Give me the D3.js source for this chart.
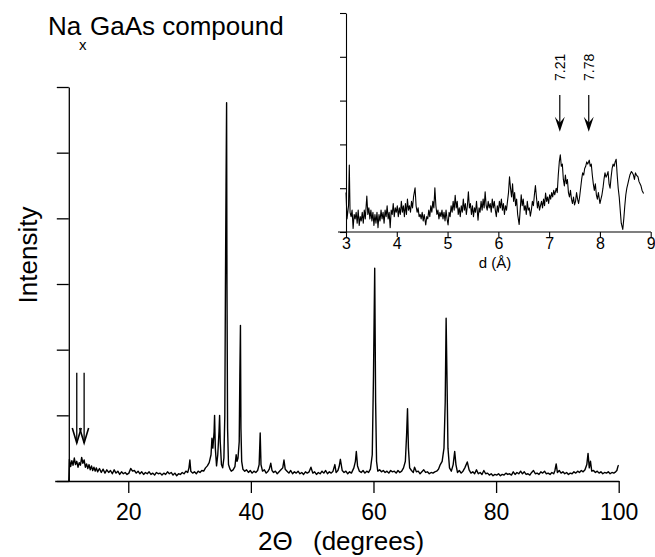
<!DOCTYPE html>
<html>
<head>
    <style>
        body { margin: 0; background: #fff; }
        svg text { font-family: "Liberation Sans", Arial, sans-serif; fill: #000; }
        .trace { fill: none; stroke: #000; stroke-linejoin: round; }
    </style>
    <script src="https://d3js.org/d3.v7.min.js"></script>
</head>
<body>
<svg width="655" height="557"></svg>
<script>

    // main pattern: [2theta (deg), intensity (counts)]
    var mainPattern = [
        [10.3,0],[10.4,330],[10.6,220],[10.8,310],[11.0,240],[11.2,350],[11.4,250],[11.6,300],[11.8,210],
        [12.0,280],[12.2,240],[12.4,360],[12.6,270],[12.8,320],[13.0,210],[13.2,260],[13.4,190],[13.6,250],
        [13.8,170],[14.0,230],[14.2,160],[14.4,210],[14.6,150],[14.8,200],[15.0,140],[15.3,190],[15.6,130],
        [15.9,180],[16.2,120],[16.5,170],[16.8,130],[17.1,160],[17.4,110],[17.7,170],[18.0,120],[18.3,150],
        [18.6,100],[18.9,140],[19.2,110],[19.5,130],[19.8,100],[20.1,120],[20.4,190],[20.7,150],[21.0,160],
        [21.3,120],[21.6,150],[21.9,110],[22.2,140],[22.5,100],[22.8,130],[23.1,110],[23.4,140],[23.7,100],
        [24.0,120],[24.3,90],[24.6,130],[24.9,110],[25.2,120],[25.5,90],[25.8,120],[26.1,100],[26.4,140],
        [26.7,110],[27.0,130],[27.3,90],[27.6,120],[27.9,80],[28.2,110],[28.5,100],[28.8,130],[29.1,110],
        [29.4,150],[29.7,130],[29.9,200],[30.05,320],[30.2,150],[30.5,120],[30.8,140],[31.1,110],[31.4,150],
        [31.7,130],[32.0,160],[32.3,150],[32.6,200],[32.9,230],[33.2,280],[33.5,400],[33.65,650],[33.8,500],
        [34.0,750],[34.08,1000],[34.2,500],[34.4,230],[34.6,400],[34.8,750],[34.9,1000],[35.0,600],[35.2,250],
        [35.4,200],[35.6,350],[35.75,1000],[35.85,2950],[35.95,4500],[36.04,5760],[36.1,3000],[36.2,800],
        [36.35,250],[36.6,180],[36.8,150],[37.1,170],[37.4,220],[37.6,400],[37.75,300],[37.9,350],[38.1,600],
        [38.2,1600],[38.3,2370],[38.38,800],[38.5,300],[38.7,180],[39.0,150],[39.3,170],[39.6,130],[39.9,160],
        [40.2,120],[40.5,150],[40.8,130],[41.1,160],[41.35,250],[41.52,730],[41.65,250],[41.9,150],[42.2,170],
        [42.5,120],[42.8,150],[43.0,180],[43.25,270],[43.45,160],[43.7,130],[44.0,150],[44.3,110],[44.6,140],
        [44.9,170],[45.2,200],[45.4,320],[45.6,180],[45.9,150],[46.2,120],[46.5,160],[46.8,110],[47.1,140],
        [47.4,120],[47.7,150],[48.0,110],[48.3,130],[48.6,100],[48.9,140],[49.2,120],[49.5,140],[49.8,210],
        [50.1,120],[50.4,140],[50.7,100],[51.0,130],[51.3,110],[51.6,150],[51.9,120],[52.2,160],[52.5,110],
        [52.8,140],[53.1,120],[53.4,150],[53.7,250],[53.9,130],[54.2,160],[54.4,220],[54.6,330],[54.9,160],
        [55.2,130],[55.5,150],[55.8,110],[56.1,140],[56.4,120],[56.8,200],[57.05,300],[57.2,450],[57.4,230],
        [57.7,150],[58.0,130],[58.3,160],[58.6,120],[58.9,150],[59.2,130],[59.5,180],[59.8,400],[60.0,1600],
        [60.2,3240],[60.35,1200],[60.5,300],[60.7,150],[61.0,170],[61.3,140],[61.6,160],[61.9,130],[62.2,150],
        [62.5,120],[62.8,160],[63.1,140],[63.4,150],[63.7,120],[64.0,160],[64.3,130],[64.6,150],[64.9,200],
        [65.2,300],[65.4,700],[65.55,1100],[65.7,500],[65.9,200],[66.2,160],[66.5,130],[66.7,210],[67.0,140],
        [67.3,150],[67.6,110],[67.9,140],[68.2,170],[68.5,130],[68.8,140],[69.1,110],[69.4,130],[69.7,120],
        [70.0,140],[70.3,150],[70.6,180],[70.9,250],[71.2,300],[71.5,500],[71.7,1200],[71.85,2480],[72.0,1500],
        [72.15,500],[72.4,200],[72.7,150],[73.0,250],[73.25,450],[73.45,250],[73.7,130],[74.0,160],[74.3,120],
        [74.6,150],[74.9,200],[75.3,290],[75.6,170],[75.9,120],[76.2,140],[76.5,110],[76.8,170],[77.1,110],
        [77.4,130],[77.7,100],[78.0,160],[78.3,110],[78.6,120],[78.9,90],[79.2,110],[79.5,80],[79.8,100],
        [80.1,90],[80.4,110],[80.7,80],[81.0,100],[81.3,90],[81.6,120],[81.9,100],[82.2,110],[82.5,90],
        [82.8,140],[83.1,100],[83.4,130],[83.7,110],[84.0,150],[84.3,110],[84.6,140],[84.9,100],[85.2,110],
        [85.5,90],[85.8,130],[86.1,160],[86.4,110],[86.7,120],[87.0,100],[87.3,140],[87.6,120],[87.9,150],
        [88.2,110],[88.5,120],[88.8,100],[89.1,130],[89.4,110],[89.6,160],[89.8,260],[90.0,130],[90.3,160],
        [90.6,120],[90.9,140],[91.2,110],[91.5,130],[91.8,100],[92.1,120],[92.4,110],[92.7,140],[93.0,120],
        [93.3,150],[93.6,130],[93.9,160],[94.2,140],[94.5,170],[94.8,250],[95.0,420],[95.2,200],[95.4,300],
        [95.6,150],[95.9,160],[96.2,130],[96.5,150],[96.8,120],[97.1,140],[97.4,110],[97.7,130],[98.0,120],
        [98.3,140],[98.6,110],[98.9,130],[99.2,120],[99.5,140],[99.7,160],[99.9,230],[100.0,240]
    ];

    // inset: [d (angstrom), intensity (arb.)]
    var insetPattern = [
        [3.00,0.9],[3.02,0.3],[3.05,0.6],[3.065,1.53],[3.08,0.45],[3.10,0.35],[3.12,0.5],[3.14,0.08],[3.16,0.4],
        [3.18,0.3],[3.20,0.45],[3.22,0.2],[3.24,0.5],[3.26,0.15],[3.28,0.35],[3.30,0.25],[3.32,0.45],[3.34,0.2],
        [3.36,0.5],[3.38,0.3],[3.41,0.82],[3.43,0.4],[3.45,0.55],[3.47,0.3],[3.49,0.5],[3.51,0.25],[3.53,0.45],
        [3.55,0.15],[3.57,0.4],[3.59,0.2],[3.61,0.45],[3.63,0.1],[3.65,0.4],[3.67,0.25],[3.69,0.5],[3.71,0.3],
        [3.73,0.45],[3.75,0.2],[3.77,0.5],[3.79,0.35],[3.81,0.6],[3.83,0.3],[3.85,0.45],[3.87,0.1],[3.89,0.5],
        [3.91,0.4],[3.93,0.65],[3.95,0.35],[3.97,0.55],[3.99,0.45],[4.01,0.6],[4.03,0.35],[4.05,0.55],[4.07,0.4],
        [4.09,0.7],[4.11,0.45],[4.13,0.6],[4.15,0.35],[4.17,0.65],[4.19,0.4],[4.21,0.75],[4.23,0.5],[4.25,0.6],
        [4.27,0.45],[4.29,0.7],[4.31,0.55],[4.33,0.8],[4.36,1.01],[4.38,0.6],[4.40,0.45],[4.42,0.55],[4.44,0.35],
        [4.46,0.4],[4.48,0.3],[4.50,0.45],[4.52,0.25],[4.54,0.4],[4.57,0.16],[4.59,0.35],[4.61,0.3],[4.63,0.5],
        [4.65,0.35],[4.67,0.6],[4.69,0.45],[4.71,0.7],[4.73,0.55],[4.75,1.01],[4.77,0.6],[4.79,0.4],[4.81,0.5],
        [4.83,0.3],[4.85,0.45],[4.87,0.35],[4.89,0.5],[4.91,0.3],[4.93,0.45],[4.95,0.25],[4.97,0.5],[4.99,0.3],
        [5.01,0.16],[5.03,0.45],[5.05,0.35],[5.07,0.6],[5.09,0.45],[5.11,0.7],[5.13,0.5],[5.15,0.84],[5.17,0.55],
        [5.19,0.7],[5.21,0.4],[5.23,0.55],[5.25,0.35],[5.27,0.6],[5.29,0.45],[5.31,0.75],[5.33,0.5],[5.35,0.65],
        [5.37,0.4],[5.39,0.6],[5.41,0.92],[5.43,0.55],[5.45,0.65],[5.47,0.4],[5.49,0.6],[5.51,0.35],[5.53,0.55],
        [5.55,0.45],[5.57,0.7],[5.60,0.27],[5.62,0.55],[5.64,0.45],[5.66,0.7],[5.68,0.5],[5.70,0.75],[5.72,0.55],
        [5.74,0.92],[5.76,0.6],[5.78,0.5],[5.80,0.7],[5.82,0.55],[5.84,0.65],[5.86,0.45],[5.88,0.75],[5.90,0.55],
        [5.92,0.7],[5.94,0.5],[5.96,0.35],[5.98,0.6],[6.00,0.45],[6.02,0.7],[6.04,0.55],[6.06,0.75],[6.08,0.5],
        [6.10,0.65],[6.12,0.4],[6.14,0.6],[6.16,0.5],[6.18,0.7],[6.20,0.9],[6.22,1.26],[6.24,1.0],[6.26,0.8],
        [6.28,1.1],[6.30,0.7],[6.32,0.9],[6.34,0.6],[6.36,0.75],[6.38,0.4],[6.41,0.17],[6.43,0.5],[6.45,0.85],
        [6.47,0.6],[6.49,0.75],[6.51,0.5],[6.53,0.6],[6.55,0.4],[6.57,0.7],[6.59,0.5],[6.61,0.55],[6.63,0.36],
        [6.65,0.5],[6.67,0.7],[6.69,0.6],[6.71,0.85],[6.73,1.06],[6.75,0.8],[6.77,0.55],[6.79,0.7],[6.81,0.5],
        [6.83,0.6],[6.85,0.7],[6.87,0.55],[6.89,0.75],[6.91,0.6],[6.93,0.89],[6.95,0.7],[6.97,0.8],[6.99,0.65],
        [7.01,0.85],[7.03,0.75],[7.05,0.9],[7.07,0.8],[7.09,0.95],[7.11,0.85],[7.14,1.0],[7.16,0.9],[7.18,1.3],
        [7.20,1.6],[7.22,1.76],[7.24,1.5],[7.26,1.55],[7.28,1.2],[7.30,1.05],[7.32,1.3],[7.34,1.1],[7.36,1.2],
        [7.38,0.9],[7.40,0.8],[7.42,0.95],[7.44,0.75],[7.46,0.65],[7.48,0.8],[7.50,0.62],[7.52,0.7],[7.54,0.9],
        [7.56,0.75],[7.58,0.65],[7.60,0.8],[7.62,1.0],[7.64,1.2],[7.66,1.35],[7.68,1.3],[7.70,1.45],[7.72,1.5],
        [7.74,1.6],[7.76,1.55],[7.79,1.64],[7.81,1.5],[7.83,1.55],[7.85,1.3],[7.87,1.1],[7.89,0.95],[7.91,1.1],
        [7.93,0.85],[7.95,0.75],[7.97,0.9],[8.00,0.65],[8.02,0.75],[8.04,0.85],[8.06,1.0],[8.08,1.2],[8.10,1.35],
        [8.12,1.25],[8.14,1.3],[8.16,1.38],[8.18,1.1],[8.20,1.0],[8.22,1.25],[8.24,1.45],[8.26,1.55],[8.28,1.5],
        [8.30,1.6],[8.32,1.66],[8.34,1.3],[8.36,1.0],[8.38,0.8],[8.40,0.5],[8.42,0.2],[8.45,0.06],[8.47,0.3],
        [8.49,0.6],[8.51,0.85],[8.53,1.0],[8.55,1.1],[8.57,1.2],[8.59,1.3],[8.62,1.38],[8.64,1.35],[8.66,1.3],
        [8.68,1.2],[8.70,1.35],[8.72,1.3],[8.75,1.26],[8.77,1.15],[8.79,1.1],[8.81,1.05],[8.83,0.95],[8.86,0.88]
    ];

    var mainTicksX = [20, 40, 60, 80, 100];
    var mainTicksY = [0, 1000, 2000, 3000, 4000, 5000, 6000];
    var insetTicksX = [3, 4, 5, 6, 7, 8, 9];
    var insetTicksY = [0, 1, 2, 3, 4, 5];

    // marked positions (arrows)
    var mainArrows = [11.6, 12.8];
    var insetArrows = [7.21, 7.78];

    var svg = d3.select("svg");

    // ---- main plot ----
    var x = d3.scaleLinear().domain([8, 100]).range([54.7, 618.7]);
    var y = d3.scaleLinear().domain([0, 6000]).range([481, 87]);

    var xAxis = svg.append("g")
        .attr("transform", "translate(0,481)")
        .call(d3.axisBottom(x).tickValues(mainTicksX).tickSize(12).tickSizeOuter(0).tickPadding(11).tickFormat(d3.format("d")));
    xAxis.attr("font-size", 23).attr("font-family", "Liberation Sans, Arial, sans-serif");

    var yAxis = svg.append("g")
        .attr("transform", "translate(" + x(10.3) + ",0)")
        .call(d3.axisLeft(y).tickValues(mainTicksY).tickSize(12).tickSizeOuter(0).tickFormat(""));

    svg.selectAll(".domain, .tick line").attr("stroke", "#000").attr("stroke-width", 1.3);

    var line = d3.line()
        .x(function(d) { return x(d[0]); })
        .y(function(d) { return y(d[1]); });

    svg.append("path")
        .datum(mainPattern)
        .attr("class", "trace")
        .attr("stroke-width", 1.4)
        .attr("d", line);

    // arrows over the low angle region
    mainArrows.forEach(function(t) {
        var ax = x(t), top = y(1650), tip = y(580);
        svg.append("line").attr("x1", ax).attr("x2", ax).attr("y1", top).attr("y2", tip)
           .attr("stroke", "#000").attr("stroke-width", 1.3);
        svg.append("path")
           .attr("d", "M" + (ax - 4.5) + "," + (tip - 15) + "L" + ax + "," + tip + "L" + (ax + 4.5) + "," + (tip - 15))
           .attr("fill", "none").attr("stroke", "#000").attr("stroke-width", 1.6);
    });

    svg.append("text")
        .attr("transform", "translate(37,255) rotate(-90)")
        .attr("text-anchor", "middle")
        .style("font-size", "26px")
        .text("Intensity");

    svg.append("text").attr("x", 258).attr("y", 550).style("font-size", "26px").text("2Θ");
    svg.append("text").attr("x", 313).attr("y", 550).style("font-size", "26px").text("(degrees)");

    // title
    svg.append("text").attr("x", 48).attr("y", 35).style("font-size", "26px").text("Na");
    svg.append("text").attr("x", 79).attr("y", 50).style("font-size", "15px").text("x");
    svg.append("text").attr("x", 90).attr("y", 35).style("font-size", "26px").text("GaAs compound");

    // ---- inset ----
    var xi = d3.scaleLinear().domain([3, 9]).range([346, 650.7]);
    var yi = d3.scaleLinear().domain([0, 5]).range([232, 13]);

    var inset = svg.append("g");

    var xiAxis = inset.append("g")
        .attr("transform", "translate(0,232)")
        .call(d3.axisBottom(xi).tickValues(insetTicksX).tickSize(5).tickSizeOuter(0).tickPadding(1).tickFormat(d3.format("d")));
    xiAxis.attr("font-size", 16).attr("font-family", "Liberation Sans, Arial, sans-serif");
    xiAxis.select(".domain").attr("d", "M338,0H651");

    inset.append("g")
        .attr("transform", "translate(346,0)")
        .call(d3.axisLeft(yi).tickValues(insetTicksY).tickSize(6).tickSizeOuter(0).tickFormat(""));

    inset.selectAll(".domain, .tick line").attr("stroke", "#000").attr("stroke-width", 1.1);

    var lineI = d3.line()
        .x(function(d) { return xi(d[0]); })
        .y(function(d) { return yi(d[1]); });

    inset.append("path")
        .datum(insetPattern)
        .attr("class", "trace")
        .attr("stroke-width", 1.1)
        .attr("d", lineI);

    insetArrows.forEach(function(dv) {
        var ax = xi(dv), top = yi(3.13), tip = yi(2.29);
        inset.append("line").attr("x1", ax).attr("x2", ax).attr("y1", top).attr("y2", tip - 8)
             .attr("stroke", "#000").attr("stroke-width", 1.2);
        inset.append("path")
             .attr("d", "M" + ax + "," + tip + "L" + (ax - 5) + "," + (tip - 15) + "L" + ax + "," + (tip - 9) + "L" + (ax + 5) + "," + (tip - 15) + "Z")
             .attr("fill", "#000");
        inset.append("text")
             .attr("transform", "translate(" + ax + "," + yi(3.76) + ") rotate(-90)")
             .attr("text-anchor", "middle")
             .attr("dy", "0.35em")
             .style("font-size", "14px")
             .text(d3.format(".2f")(dv));
    });

    inset.append("text")
        .attr("x", 495).attr("y", 268)
        .attr("text-anchor", "middle")
        .style("font-size", "15px")
        .text("d (Å)");

</script>
</body>
</html>
